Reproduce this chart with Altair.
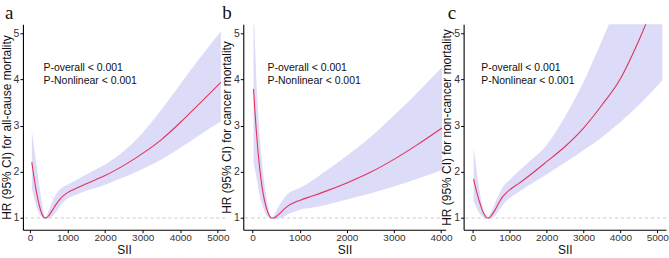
import altair as alt
import pandas as pd

# ---------------- data ----------------
a_sii = [50, 100, 150, 200, 250, 300, 350, 400, 450, 500, 600, 700, 800, 900, 1000,
         1250, 1500, 1750, 2000, 2500, 3000, 3500, 4000, 4500, 5080]
a_hr = [2.21, 1.93, 1.67, 1.45, 1.27, 1.13, 1.04, 1.00, 1.01, 1.05, 1.17, 1.30, 1.41, 1.49, 1.55,
        1.65, 1.74, 1.83, 1.92, 2.14, 2.40, 2.70, 3.07, 3.47, 3.94]
a_lo = [1.64, 1.47, 1.31, 1.18, 1.09, 1.03, 1.00, 1.00, 0.98, 0.99, 1.04, 1.13, 1.25, 1.35, 1.42,
        1.51, 1.59, 1.65, 1.72, 1.88, 2.06, 2.27, 2.52, 2.79, 3.09]
a_hi = [2.88, 2.60, 2.30, 2.00, 1.70, 1.42, 1.18, 1.00, 1.06, 1.16, 1.36, 1.52, 1.62, 1.68, 1.72,
        1.83, 1.94, 2.05, 2.16, 2.45, 2.85, 3.35, 3.90, 4.45, 5.05]

b_sii = [20, 50, 100, 150, 200, 250, 300, 350, 400, 450, 500, 600, 700, 800, 900, 1000,
         1250, 1500, 2000, 2500, 3000, 3500, 4020]
b_hr = [3.80, 3.30, 2.62, 2.08, 1.68, 1.39, 1.19, 1.06, 1.00, 1.00, 1.03, 1.12, 1.22, 1.29, 1.34, 1.38,
        1.47, 1.56, 1.76, 1.99, 2.27, 2.59, 2.95]
b_lo = [2.22, 2.05, 1.78, 1.50, 1.30, 1.15, 1.05, 1.00, 1.00, 0.97, 0.98, 1.00, 1.05, 1.10, 1.14, 1.18,
        1.22, 1.27, 1.40, 1.53, 1.68, 1.85, 2.04]
b_hi = [5.60, 4.80, 3.60, 2.80, 2.20, 1.75, 1.42, 1.15, 1.00, 1.05, 1.15, 1.33, 1.47, 1.56, 1.61, 1.65,
        1.80, 1.98, 2.35, 2.75, 3.22, 3.72, 4.27]

c_sii = [20, 50, 100, 150, 200, 250, 300, 350, 400, 450, 500, 600, 700, 800, 900, 1000,
         1250, 1500, 2000, 2500, 3000, 3500, 4000, 4500, 5135]
c_hr = [1.84, 1.74, 1.58, 1.43, 1.30, 1.18, 1.09, 1.03, 1.00, 1.01, 1.05, 1.17, 1.32, 1.45, 1.54, 1.61,
        1.75, 1.90, 2.22, 2.55, 2.95, 3.45, 4.02, 4.85, 6.10]
c_lo = [1.36, 1.30, 1.22, 1.14, 1.08, 1.04, 1.01, 0.99, 1.00, 0.98, 0.99, 1.05, 1.15, 1.27, 1.36, 1.43,
        1.57, 1.70, 1.94, 2.20, 2.47, 2.75, 3.08, 3.45, 3.98]
c_hi = [2.54, 2.35, 2.05, 1.75, 1.50, 1.30, 1.15, 1.05, 1.00, 1.06, 1.14, 1.32, 1.50, 1.65, 1.75, 1.83,
        2.02, 2.20, 2.58, 3.20, 3.95, 4.85, 5.80, 6.80, 8.00]

ann_text = ["P-overall < 0.001", "P-Nonlinear < 0.001"]
ann_y = [4.25, 3.96]
ann_x = {"a": 363, "b": 317, "c": 227}

titles = {
    "a": "HR (95% CI) for all-cause mortality",
    "b": "HR (95% CI) for cancer mortality",
    "c": "HR (95% CI) for non-cancer mortality",
}

SANS = "Liberation Sans, Arial, Helvetica, sans-serif"
SERIF = "Liberation Serif, Times New Roman, serif"
BAND = "#dcdcf9"
LINE = "#e2325c"


def panel(key, sii, hr, lo, hi, xdom, xmax, letter_dx):
    df = pd.DataFrame({"SII": sii, "HR": hr, "lo": lo, "hi": hi})
    xs = alt.Scale(domain=xdom, nice=False, zero=False)
    ys = alt.Scale(domain=[0.745, 5.2], nice=False, zero=False)
    xax = alt.Axis(values=list(range(0, xmax + 1, 1000)), format="d", title="SII", grid=False,
                   tickSize=3, labelPadding=0, titlePadding=2, labelFlush=False, labelFontSize=10)
    yax = alt.Axis(values=[1, 2, 3, 4, 5], title=titles[key], grid=False,
                   tickSize=3, labelPadding=1, titlePadding=0)
    band = alt.Chart(df).mark_area(color=BAND, opacity=1, clip=True, interpolate="monotone").encode(
        x=alt.X("SII:Q", scale=xs, axis=xax),
        y=alt.Y("lo:Q", scale=ys, axis=yax),
        y2="hi:Q",
    )
    ref = alt.Chart(pd.DataFrame({"HR": [1]})).mark_rule(
        color="#bdbdbd", strokeDash=[3, 3], strokeWidth=0.8
    ).encode(y="HR:Q")
    line = alt.Chart(df).mark_line(color=LINE, strokeWidth=1.1, clip=True, interpolate="monotone").encode(
        x="SII:Q", y="HR:Q"
    )
    ann = alt.Chart(pd.DataFrame({"SII": [ann_x[key]] * 2, "HR": ann_y, "t": ann_text})).mark_text(
        align="left", baseline="middle", fontSize=10.5, font=SANS, color="#111111"
    ).encode(x="SII:Q", y="HR:Q", text="t:N")
    let = alt.Chart(pd.DataFrame({"t": [key]})).mark_text(
        align="left", baseline="alphabetic", fontSize=19, font=SERIF, color="#111111"
    ).encode(x=alt.value(letter_dx), y=alt.value(-5.3), text="t:N")
    return alt.layer(band, ref, line, ann, let).properties(width=203, height=206)


pa = panel("a", a_sii, a_hr, a_lo, a_hi, [-186, 5199], 5000, -18)
pb = panel("b", b_sii, b_hr, b_lo, b_hi, [-198, 4098], 4000, -21)
pc = panel("c", c_sii, c_hr, c_lo, c_hi, [-250, 5236], 5000, -16)

chart = (
    alt.hconcat(pa, pb, pc, spacing=18, bounds="flush")
    .configure_view(stroke=None)
    .configure_axis(
        domainColor="#000000", domainWidth=1.1, tickColor="#000000", tickWidth=1,
        labelFont=SANS, labelFontSize=10.5, labelColor="#333333",
        titleFont=SANS, titleFontSize=12, titleFontWeight="normal", titleColor="#111111",
    )
    .properties(padding={"left": 0, "top": 3, "right": 0, "bottom": 0}, background="white")
)

chart.save("out.html", embed_options={"renderer": "svg", "actions": False})
